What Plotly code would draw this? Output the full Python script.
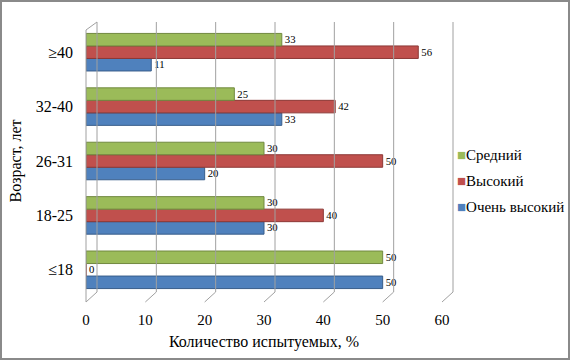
import plotly.graph_objects as go

categories = ["≤18", "18-25", "26-31", "32-40", "≥40"]
very_high = [50, 30, 20, 33, 11]
high = [0, 40, 50, 42, 56]
medium = [50, 30, 30, 25, 33]
series_names = ["Очень высокий", "Высокий", "Средний"]
x_ticks = [0, 10, 20, 30, 40, 50, 60]

colors = ["#4f81bd", "#c0504d", "#9bbb59"]
edge = ["#385d8a", "#8c3836", "#71893f"]

W, H = 570, 360
L, R, T, B = 86, 128, 25, 63
pw, ph = W - L - R, H - T - B
FONT = "Liberation Serif"

def px(x):
    return (x - L) / pw

def py(y):
    return 1 - (y - T) / ph

fig = go.Figure()
for name, vals, c, e in zip(series_names, [very_high, high, medium], colors, edge):
    fig.add_trace(go.Bar(
        y=categories, x=vals, name=name, orientation="h",
        marker=dict(color=c, line=dict(color=e, width=1)),
        text=[str(v) for v in vals], textposition="outside",
        textfont=dict(family=FONT, size=12, color="#000"),
        cliponaxis=False, showlegend=False,
    ))

# legend drawn as text entries (top to bottom: reversed series order)
annotations = []
legend_y = [155, 181, 207]
for (name, c), yy in zip(list(zip(series_names, colors))[::-1], legend_y):
    annotations.append(dict(
        xref="paper", yref="paper", x=px(455), y=py(yy),
        xanchor="left", yanchor="middle", showarrow=False,
        text=f"<span style='color:{c}'>■</span>{name}",
        font=dict(family=FONT, size=15, color="#000"),
    ))

shapes = []
gc = "#a0a0a0"
dx, dy = 11, 10
front_bottom, front_top = 302, 30
for v in x_ticks:
    xf = L + v * pw / 60
    xb = xf + dx
    shapes.append(dict(type="line", xref="paper", yref="paper",
                       x0=px(xb), x1=px(xb), y0=py(front_bottom - dy), y1=py(22),
                       line=dict(color=gc, width=1)))
    shapes.append(dict(type="line", xref="paper", yref="paper",
                       x0=px(xf), x1=px(xb), y0=py(front_bottom), y1=py(front_bottom - dy),
                       line=dict(color=gc, width=1)))
shapes.append(dict(type="line", xref="paper", yref="paper",
                   x0=px(L), x1=px(L), y0=py(front_bottom), y1=py(front_top),
                   line=dict(color=gc, width=1)))
shapes.append(dict(type="line", xref="paper", yref="paper",
                   x0=px(L), x1=px(L + dx), y0=py(front_top), y1=py(22),
                   line=dict(color=gc, width=1)))
shapes.append(dict(type="rect", xref="paper", yref="paper",
                   x0=px(1), x1=px(W - 1), y0=py(1), y1=py(H - 1),
                   line=dict(color="#8a8a8a", width=2)))

fig.update_layout(
    width=W, height=H,
    margin=dict(l=L, r=R, t=T, b=B, autoexpand=False),
    paper_bgcolor="white", plot_bgcolor="white",
    barmode="group", bargap=0.31, bargroupgap=0,
    font=dict(family=FONT, size=14, color="#000"),
    showlegend=False,
    annotations=annotations,
    shapes=shapes,
    xaxis=dict(range=[0, 60], tickvals=x_ticks, showgrid=False, zeroline=False,
               showline=False, ticks="", ticklabelstandoff=12, automargin=False,
               tickfont=dict(family=FONT, size=15),
               title=dict(text="Количество испытуемых, %", font=dict(family=FONT, size=16), standoff=8)),
    yaxis=dict(range=[-0.5, 4.5], showgrid=False, zeroline=False, showline=False,
               ticks="", ticklabelstandoff=12, automargin=False,
               tickfont=dict(family=FONT, size=16),
               title=dict(text="Возраст, лет", font=dict(family=FONT, size=16), standoff=10)),
)

fig.write_html("out.html", config={"displayModeBar": False},
               post_script="document.body.style.margin='0px';")
